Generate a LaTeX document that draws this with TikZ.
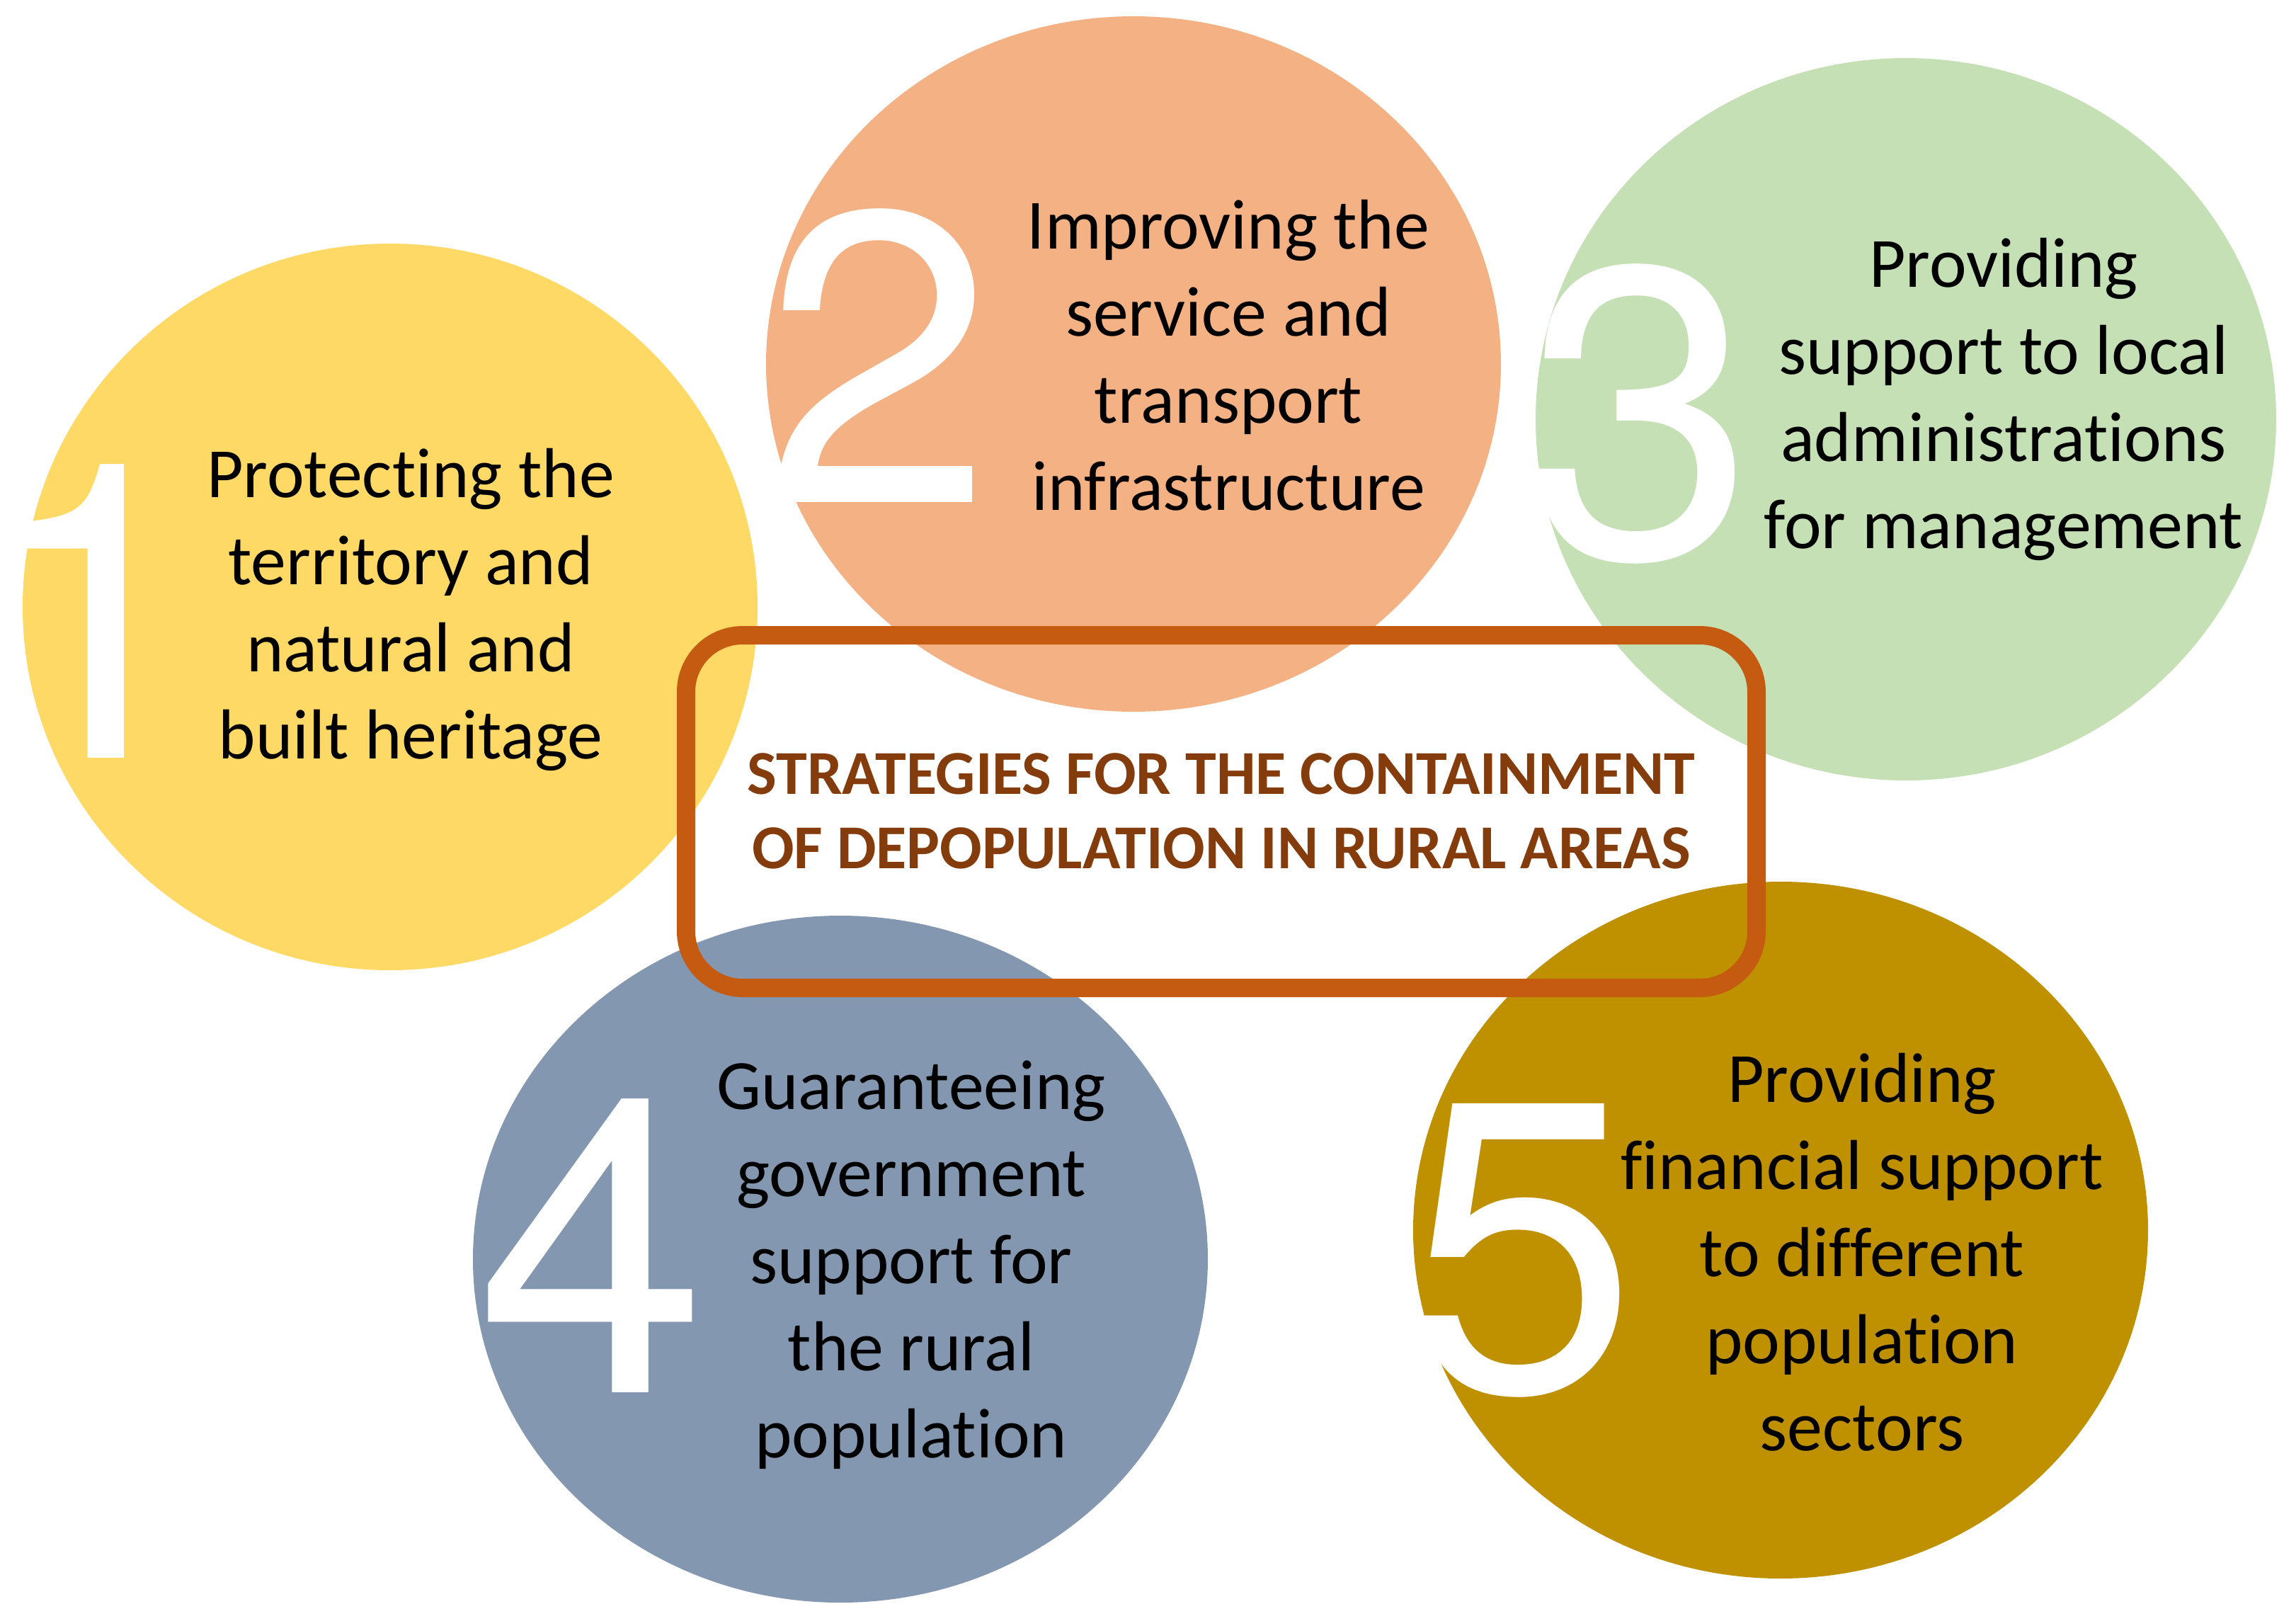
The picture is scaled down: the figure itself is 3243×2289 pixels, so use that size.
\documentclass[tikz,border=0pt]{standalone}
\usepackage{fontspec}
\setmainfont[Ligatures={NoCommon}]{Carlito}
\newfontfamily\numfont{TeX Gyre Heros}
\usetikzlibrary{shapes.geometric}
\definecolor{cyellow}{HTML}{FFD966}
\definecolor{corange}{HTML}{F4B183}
\definecolor{cgreen}{HTML}{C5E0B4}
\definecolor{cblue}{HTML}{8497B0}
\definecolor{cgold}{HTML}{BF9000}
\definecolor{cframe}{HTML}{C55A11}
\definecolor{ctitle}{HTML}{843C0C}
\begin{document}
\begin{tikzpicture}[x=0.1mm,y=-0.1mm,
  disc/.style={ellipse, inner sep=0pt, outer sep=0pt, draw=none},
  bignum/.style={anchor=base, inner sep=0pt, text=white, font=\fontsize{166.5}{166.5}\numfont},
  body/.style={align=center, inner sep=0pt, text=black, font=\fontsize{28.4}{35}\selectfont},
  titletext/.style={align=center, inner sep=0pt, text=ctitle, font=\bfseries\fontsize{25.1}{29.9}\selectfont},
  frame/.style={draw=cframe, line width=2.6mm, rounded corners=8mm, inner sep=0pt}]
\useasboundingbox (0,0) rectangle (3243,2289);

% discs
\node[disc, fill=cyellow, minimum width=103.8mm, minimum height=102.6mm] (c1) at (551,857) {};
\node[disc, fill=corange, minimum width=103.8mm, minimum height=98.2mm] (c2) at (1601,514) {};
\node[disc, fill=cgreen, minimum width=104.6mm, minimum height=102.0mm] (c3) at (2692,592) {};
\node[disc, fill=cblue, minimum width=103.8mm, minimum height=97.0mm] (c4) at (1187,1778) {};
\node[disc, fill=cgold, minimum width=103.8mm, minimum height=98.4mm] (c5) at (2515,1737) {};

% big numbers
\node[bignum] (n1) at (135,1070) {1};
\node[bignum] (n2) at (1240,709) {2};
\node[bignum] (n3) at (2317,787) {3};
\node[bignum] (n4) at (836,1966) {4};
\node[bignum] (n5) at (2150,1964) {5};

% texts
\node[body] (t1) at (580,861) {Protecting the\\territory and\\natural and\\built heritage};
\node[body] (t2) at (1735,502) {Improving the\\service and\\transport\\infrastructure};
\node[body] (t3) at (2830,564) {Providing\\support to local\\administrations\\for management};
\node[body] (t4) at (1287,1786) {Guaranteeing\\government\\support for\\the rural\\population};
\node[body] (t5) at (2630,1768) {Providing\\financial support\\to different\\population\\sectors};

% central frame
\node[frame, minimum width=151.2mm, minimum height=49.8mm] (box) at (1725,1146) {};
\node[titletext] (title) at (1725,1145) {STRATEGIES FOR THE CONTAINMENT\\OF DEPOPULATION IN RURAL AREAS};
\end{tikzpicture}
\end{document}
